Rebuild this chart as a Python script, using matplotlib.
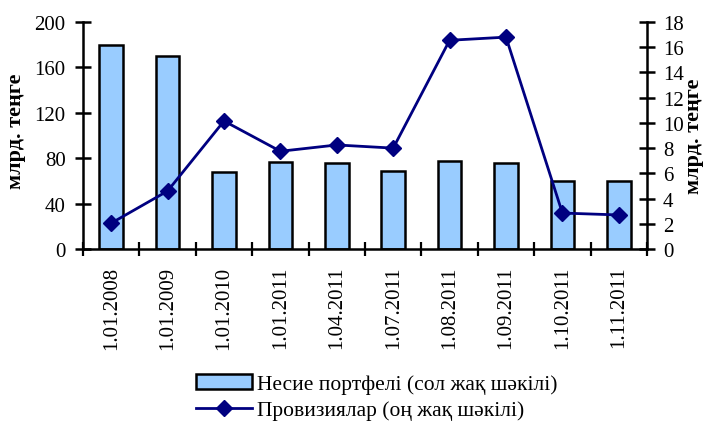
import matplotlib
matplotlib.use("Agg")
import matplotlib.pyplot as plt
import numpy as np
from matplotlib.lines import Line2D
from matplotlib.patches import Patch

plt.rcParams['font.family'] = ['Liberation Serif', 'DejaVu Serif']

categories = ['1.01.2008', '1.01.2009', '1.01.2010', '1.01.2011', '1.04.2011',
              '1.07.2011', '1.08.2011', '1.09.2011', '1.10.2011', '1.11.2011']
loan_portfolio = [180, 170, 68, 76.5, 75.5, 68.5, 77.5, 76, 60, 60]
provisions = [2.05, 4.6, 10.15, 7.75, 8.25, 8.0, 16.55, 16.8, 2.85, 2.7]

fig = plt.figure(figsize=(7.07, 4.27), dpi=100)
ax = fig.add_axes([83 / 707, 1 - 250 / 427, 564 / 707, 227 / 427])
x = np.arange(len(categories))
ax.bar(x, loan_portfolio, width=0.42, color='#99ccff', edgecolor='black', linewidth=1.8, zorder=2)
ax.set_xlim(-0.5, len(categories) - 0.5)
ax.set_ylim(0, 200)
ax.set_yticks([0, 40, 80, 120, 160, 200])
ax.set_xticks(np.arange(len(categories) + 1) - 0.5)
ax.set_xticklabels([])
ax.set_xticks(x, minor=True)
ax.set_xticklabels(categories, minor=True, rotation=90, fontsize=15)
ax.tick_params(axis='x', which='major', direction='inout', length=10, width=1.6)
ax.tick_params(axis='x', which='minor', length=0, pad=12)
ax.tick_params(axis='y', direction='inout', length=11, width=1.8, labelsize=15, pad=7)
for s in ['top', 'right']:
    ax.spines[s].set_visible(False)
ax.spines['left'].set_linewidth(1.8)
ax.spines['bottom'].set_linewidth(1.8)
ax.set_ylabel('млрд. теңге', fontsize=16, fontweight='bold')
ax.yaxis.set_label_coords((26 - 83) / 564, 0.524)

ax2 = ax.twinx()
ax2.plot(x, provisions, color='#000080', linewidth=2, marker='D', markersize=8, zorder=3)
ax2.set_ylim(0, 18)
ax2.set_yticks(np.arange(0, 19, 2))
ax2.tick_params(axis='y', direction='inout', length=11, width=1.8, labelsize=15, pad=6)
for s in ['top', 'left', 'bottom']:
    ax2.spines[s].set_visible(False)
ax2.spines['right'].set_linewidth(1.8)
ax2.set_ylabel('млрд. теңге', fontsize=16, fontweight='bold')
ax2.yaxis.set_label_coords((684 - 83) / 564, 0.50)

handles = [Patch(facecolor='#99ccff', edgecolor='black', linewidth=1.8),
           Line2D([0], [0], color='#000080', linewidth=2, marker='D', markersize=8)]
labels = ['Несие портфелі (сол жақ шәкілі)', 'Провизиялар (оң жақ шәкілі)']
fig.legend(handles, labels, loc='center', bbox_to_anchor=(0.533, 0.068), frameon=False,
           fontsize=15.5, handlelength=2.6, handletextpad=0.25, labelspacing=0.3,
           borderpad=0)

fig.savefig('out.png', dpi=100)
